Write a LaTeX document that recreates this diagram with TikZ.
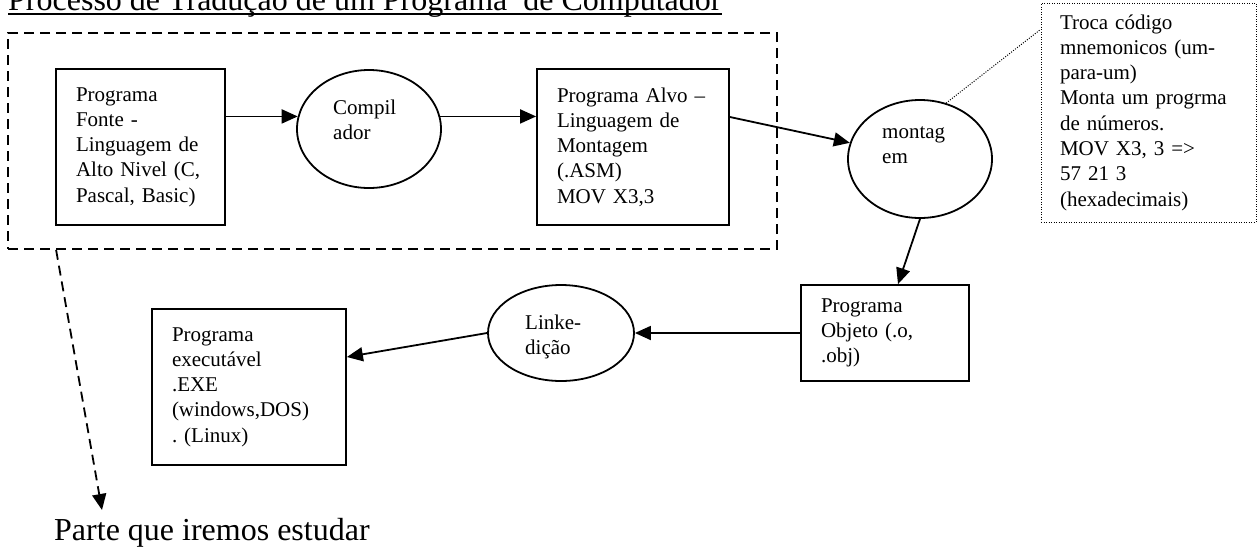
\documentclass[tikz,border=0pt]{standalone}
\usepackage{fontspec}
\setmainfont{Liberation Serif}
\usetikzlibrary{positioning, shapes.geometric, arrows.meta, calc}
\newcommand{\corpo}{\fontsize{21}{25.3}\selectfont}
\newcommand{\grande}{\fontsize{32}{38}\selectfont}
\tikzset{
	caixa/.style={draw, rectangle, line width=1.8pt, align=left, font=\corpo, inner xsep=20pt, inner ysep=0pt}
}
\tikzset{
	elipse/.style={draw, ellipse, line width=1.8pt, inner sep=0pt, minimum width=144pt}
}
\tikzset{
	rotulo/.style={align=left, font=\corpo, inner sep=0pt, anchor=west}
}
\tikzset{
	seta/.style={line width=1.8pt, -{Triangle[length=16pt,width=14pt]}},
	tracejada/.style={line width=1.8pt, dash pattern=on 10pt off 6pt},
	pontilhado/.style={line width=1pt, dash pattern=on 1pt off 1.5pt}
}

\begin{document}
\frenchspacing
\begin{tikzpicture}[x=1pt, y=-1pt]
      \useasboundingbox (0,0) rectangle (1258,547);
      % titulo e rodape
      \node[font=\grande, inner sep=0pt, anchor=base west] (titulo) at (8,10)
        {Processo de Tradução de um Programa~ de Computador};
      \draw[line width=1.8pt] ([yshift=-4pt]titulo.base west) -- ([yshift=-4pt]titulo.base east);
      \node[font=\grande, inner sep=0pt, anchor=base west] (parte) at (54,540) {Parte que iremos estudar};
      \coordinate (ponta) at (102,510);
      % area tracejada
      \node[draw, tracejada, inner sep=0pt, minimum width=769pt, minimum height=216pt] (area) at (392.5,141) {};
      % caixas
      \node[caixa, minimum width=169pt, minimum height=156pt, text width=129pt] (fonte) at (140.5,147)
        {Programa\\Fonte -\\Linguagem de\\Alto Nivel (C,\\Pascal, Basic)};
      \node[caixa, minimum width=192pt, minimum height=156pt, text width=152pt] (alvo) at (633,147)
        {Programa Alvo –\\Linguagem de\\Montagem\\(.ASM)\\MOV X3,3};
      \node[caixa, minimum width=168pt, minimum height=96pt, text width=128pt] (objeto) at (885,333)
        {Programa\\Objeto (.o,\\.obj)};
      \node[caixa, minimum width=194pt, minimum height=156pt, text width=154pt] (exe) at (249,387)
        {Programa\\executável\\.EXE\\(windows,DOS)\\. (Linux)};
      \node[caixa, pontilhado, inner xsep=19pt, minimum width=215pt, minimum height=219pt, text width=177pt] (nota) at (1148.5,112.5)
        {Troca código\\mnemonicos (um-\\para-um)\\Monta um progrma\\de números.\\MOV X3, 3 =>\\57 21 3\\(hexadecimais)};
      % elipses
      \node[elipse, minimum height=118pt] (compil) at (369,129) {};
      \node[rotulo] (compiltx) at ([xshift=-36pt, yshift=9pt]compil.center) {Compil\\ador};
      \node[elipse, minimum height=118pt] (montag) at (920,159) {};
      \node[rotulo] (montagtx) at ([xshift=-38pt, yshift=14pt]montag.center) {montag\\em};
      \node[elipse, minimum width=146pt, minimum height=96pt] (link) at (561,333) {};
      \node[rotulo] (linktx) at ([xshift=-36pt, yshift=-4pt]link.center) {Linke-\\dição};
      % setas
      \draw[seta] (fonte.east |- compil.170) -- (compil.170);
      \draw[seta] (compil.10) -- (compil.10 -| alvo.west);
      \draw[seta] ([yshift=30pt]alvo.east) -- (montag.167);
      \draw[seta] (montag.south) -- ([xshift=13pt]objeto.north);
      \draw[seta] (objeto.west) -- (link.east);
      \draw[seta] (link.west) -- ([yshift=30pt]exe.east);
      \draw[seta, tracejada] ([xshift=49pt]area.south west) -- (ponta);
      \draw[pontilhado] (montag.65) -- ([yshift=-27pt]nota.north west);
\end{tikzpicture}
\end{document}
